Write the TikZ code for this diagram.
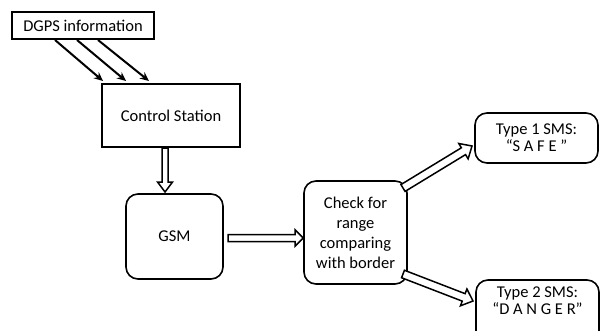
\documentclass[tikz,border=0pt]{standalone}
\usepackage{fontspec}
\setmainfont{Carlito}
\usetikzlibrary{calc,arrows.meta}
\tikzset{
  box/.style={draw, line width=1.6pt, minimum width=#1, inner sep=0pt, align=center, font=\fontsize{16.5}{20}\selectfont},
  rbox/.style={box=#1, rounded corners=12pt},
  thinarrow/.style={line width=2pt, -{Stealth[length=9pt,width=8pt]}},
  blockarrow/.style={draw, line width=1.5pt, fill=white, line join=miter},
}
\newcommand{\blockarrow}[5]{%
  \coordinate (ba-s) at #1; \coordinate (ba-e) at #2;
  \coordinate (ba-h) at ($(ba-e)!#5!(ba-s)$);
  \draw[blockarrow] ($(ba-s)!#3!90:(ba-e)$) -- ($(ba-h)!#3!-90:(ba-s)$) -- ($(ba-h)!#4!-90:(ba-s)$) -- (ba-e) -- ($(ba-h)!#4!90:(ba-s)$) -- ($(ba-h)!#3!90:(ba-s)$) -- ($(ba-s)!#3!-90:(ba-e)$) -- cycle;}
\begin{document}
\begin{tikzpicture}[x=1pt,y=-1pt]
\useasboundingbox (0,0) rectangle (601,331);
\clip (0,0) rectangle (601,331);
\node[box=142pt, minimum height=27pt] (dgps) at (83,25.5) {DGPS information};
\node[box=138pt, minimum height=63pt] (cs) at (171,115.5) {Control Station};
\node[rbox=97pt, minimum height=85pt] (gsm) at (174.5,236.5) {GSM};
\node[rbox=103pt, minimum height=103pt] (chk) at (355.5,232.5) {Check for\\range\\comparing\\with border};
\node[rbox=123pt, minimum height=50pt, font=\fontsize{16.5}{17}\selectfont] (t1) at (536.5,138) {Type 1 SMS:\\“S A F E ”};
\node[rbox=123pt, minimum height=64pt] (t2) at (537.5,312) {};
\node[align=center, inner sep=0pt, font=\fontsize{16.5}{17}\selectfont] (t2txt) at (537.5,301) {Type 2 SMS:\\“D A N G E R”};
% DGPS arrows
\coordinate (a1s) at (55,40); \coordinate (a1e) at (103,81);
\coordinate (a2s) at (77,40); \coordinate (a2e) at (126,81);
\coordinate (a3s) at (98,40); \coordinate (a3e) at (149,81);
\draw[thinarrow] (a1s) -- (a1e);
\draw[thinarrow] (a2s) -- (a2e);
\draw[thinarrow] (a3s) -- (a3e);
% block arrows
\coordinate (d1s) at (165,148); \coordinate (d1e) at (165,192);
\blockarrow{(d1s)}{(d1e)}{3pt}{7.5pt}{10pt}
\coordinate (h1s) at (228,238); \coordinate (h1e) at ($(chk.west)+(0,5.5)$);
\blockarrow{(h1s)}{(h1e)}{3.5pt}{8pt}{8pt}
\coordinate (u1s) at (403,188); \coordinate (u1e) at (472,146);
\blockarrow{(u1s)}{(u1e)}{4pt}{9pt}{10pt}
\coordinate (l1s) at (403,274); \coordinate (l1e) at (473,301);
\blockarrow{(l1s)}{(l1e)}{4pt}{9pt}{10pt}
\end{tikzpicture}
\end{document}
